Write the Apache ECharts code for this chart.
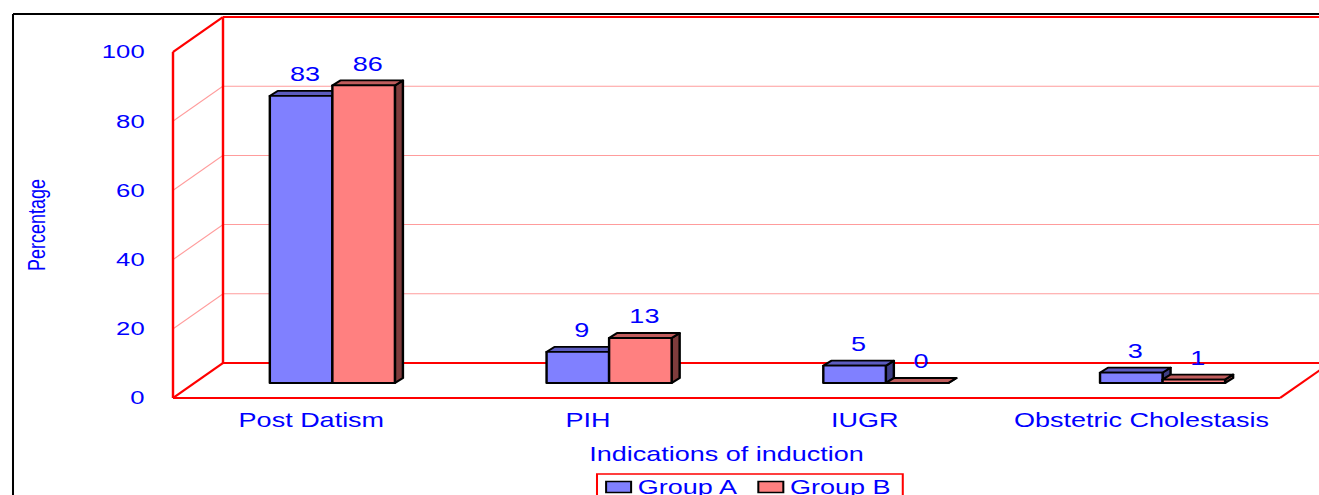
<!DOCTYPE html>
<html>
<head>
<meta charset="utf-8">
<title>Indications of induction</title>
<script src="https://cdn.jsdelivr.net/npm/echarts@6/dist/echarts.min.js"></script>
<style>
  html, body { margin: 0; padding: 0; background: #fff; overflow: hidden; }
  #chart { height: 495px; transform-origin: 0 0; }
</style>
</head>
<body>
<div id="chart"></div>
<script>
// the source picture is stretched sideways, so draw narrow and stretch the same way
const S = 1.35;
const W = 1319 / S;

const categories = ["Post Datism", "PIH", "IUGR", "Obstetric Cholestasis"];
const groupA = [83, 9, 5, 3];
const groupB = [86, 13, 0, 1];
const yTicks = [0, 20, 40, 60, 80, 100];

const BLUE = "#0000ff";
const FONT = '"Liberation Sans", Arial, sans-serif';

// bar plane sits half way into the box; front and back planes are offsets of it
const PLANE = { left: 194 / S, right: W - 1301 / S, top: 37, bottom: 112 };
const FRONT = [-21 / S, 15];
const BACK = [29 / S, -20];
const DEPTH = [8 / S, -5];
const BAR_RATIO = 0.226;

const dom = document.getElementById("chart");
dom.style.width = W + "px";
dom.style.transform = "scaleX(" + S + ")";

const chart = echarts.init(dom, null, { renderer: "svg" });

const barSeries = (name, values, side, colors) => ({
  type: "custom",
  name: name,
  xAxisIndex: 0,
  yAxisIndex: 0,
  data: values.map((v, i) => [i, v]),
  itemStyle: { color: colors[0] },
  renderItem: (params, api) => {
    const i = api.value(0);
    const v = api.value(1);
    const top = api.coord([i, v]);
    const base = api.coord([i, 0]);
    const w = api.size([1, 0])[0] * BAR_RATIO;
    const x0 = side < 0 ? top[0] - w : top[0];
    const x1 = x0 + w;
    const yT = top[1];
    const yB = base[1];
    const [dx, dy] = DEPTH;
    const edge = { stroke: "#000", lineWidth: 1.8, lineJoin: "round" };
    return {
      type: "group",
      children: [
        {
          type: "polygon",
          shape: { points: [[x1, yT], [x1 + dx, yT + dy], [x1 + dx, yB + dy], [x1, yB]] },
          style: Object.assign({ fill: colors[2] }, edge),
        },
        {
          type: "polygon",
          shape: { points: [[x0, yT], [x1, yT], [x1 + dx, yT + dy], [x0 + dx, yT + dy]] },
          style: Object.assign({ fill: colors[1] }, edge),
        },
        {
          type: "rect",
          shape: { x: x0, y: yT, width: w, height: yB - yT },
          style: Object.assign({ fill: colors[0] }, edge),
        },
        {
          type: "text",
          x: (x0 + x1 + dx) / 2,
          y: yT + dy - 7,
          style: {
            text: String(v),
            fill: BLUE,
            font: "20px " + FONT,
            align: "center",
            verticalAlign: "bottom",
          },
        },
      ],
    };
  },
});

// red box: back wall, left wall and floor
const frameSeries = {
  type: "custom",
  xAxisIndex: 0,
  yAxisIndex: 0,
  silent: true,
  data: [[0, 0]],
  renderItem: (params, api) => {
    const cs = params.coordSys;
    const L = cs.x;
    const R = cs.x + cs.width;
    const y = (v) => api.coord([0, v])[1];
    const F = (x, v) => [x + FRONT[0], y(v) + FRONT[1]];
    const B = (x, v) => [x + BACK[0], y(v) + BACK[1]];
    const strong = { stroke: "#ff0000", lineWidth: 1.8 };
    const light = { stroke: "#ff9c9c", lineWidth: 1 };
    const seg = (p, q, style) => ({
      type: "line",
      shape: { x1: p[0], y1: p[1], x2: q[0], y2: q[1] },
      style: style,
    });
    const children = [];
    yTicks.slice(1, -1).forEach((v) => {
      children.push(seg(B(L, v), B(R + 60, v), light));
      children.push(seg(F(L, v), B(L, v), light));
    });
    children.push(seg(B(L, 0), B(R + 60, 0), strong));
    children.push(seg(B(L, 100), B(R + 60, 100), strong));
    children.push(seg(B(L, 0), B(L, 100), strong));
    children.push(seg(F(L, 0), B(L, 0), strong));
    children.push(seg(F(L, 100), B(L, 100), strong));
    children.push(seg(F(L, 0), F(L, 100), strong));
    children.push(seg(F(L, 0), F(R, 0), strong));
    children.push(seg(F(R, 0), B(R, 0), strong));
    return { type: "group", children: children };
  },
};

const option = {
  animation: false,
  backgroundColor: "#fff",
  textStyle: { fontFamily: FONT },
  grid: [
    {
      left: PLANE.left,
      right: PLANE.right,
      top: PLANE.top,
      bottom: PLANE.bottom,
    },
    {
      left: PLANE.left + FRONT[0],
      right: PLANE.right - FRONT[0],
      top: PLANE.top + FRONT[1],
      bottom: PLANE.bottom - FRONT[1],
    },
  ],
  xAxis: [
    { type: "category", gridIndex: 0, data: categories, show: false },
    {
      type: "category",
      gridIndex: 1,
      data: categories,
      axisLine: { show: false },
      axisTick: { show: false },
      axisLabel: { color: BLUE, fontSize: 20, margin: 12, interval: 0 },
      name: "Indications of induction",
      nameLocation: "middle",
      nameGap: 46,
      nameTextStyle: { color: BLUE, fontSize: 20 },
    },
  ],
  yAxis: [
    { type: "value", gridIndex: 0, min: 0, max: 100, interval: 20, show: false },
    {
      type: "value",
      gridIndex: 1,
      min: 0,
      max: 100,
      interval: 20,
      axisLine: { show: false },
      axisTick: { show: false },
      splitLine: { show: false },
      axisLabel: { color: BLUE, fontSize: 19, margin: 21 },
      name: "Percentage",
      nameLocation: "middle",
      nameRotate: 90,
      nameGap: 92,
      nameTextStyle: { color: BLUE, fontSize: 18 },
    },
  ],
  legend: {
    data: ["Group A", "Group B"],
    left: 597 / S,
    top: 474,
    icon: "rect",
    itemWidth: 25 / S,
    itemHeight: 11,
    itemGap: 14,
    padding: [3, 9, 3, 6],
    borderColor: "#ff0000",
    borderWidth: 1.5,
    itemStyle: { borderColor: "#000", borderWidth: 1.5 },
    textStyle: { color: BLUE, fontSize: 20 },
  },
  graphic: [
    {
      type: "line",
      shape: { x1: 13 / S, y1: 14, x2: W + 20, y2: 14 },
      style: { stroke: "#000", lineWidth: 2 },
    },
    {
      type: "line",
      shape: { x1: 13 / S, y1: 14, x2: 13 / S, y2: 520 },
      style: { stroke: "#000", lineWidth: 1.5 },
    },
  ],
  series: [
    frameSeries,
    barSeries("Group A", groupA, -1, ["#8080ff", "#5c5cc0", "#3f3f86"]),
    barSeries("Group B", groupB, 1, ["#ff8080", "#c05c5c", "#7f3c3c"]),
  ],
};

chart.setOption(option);
</script>
</body>
</html>
